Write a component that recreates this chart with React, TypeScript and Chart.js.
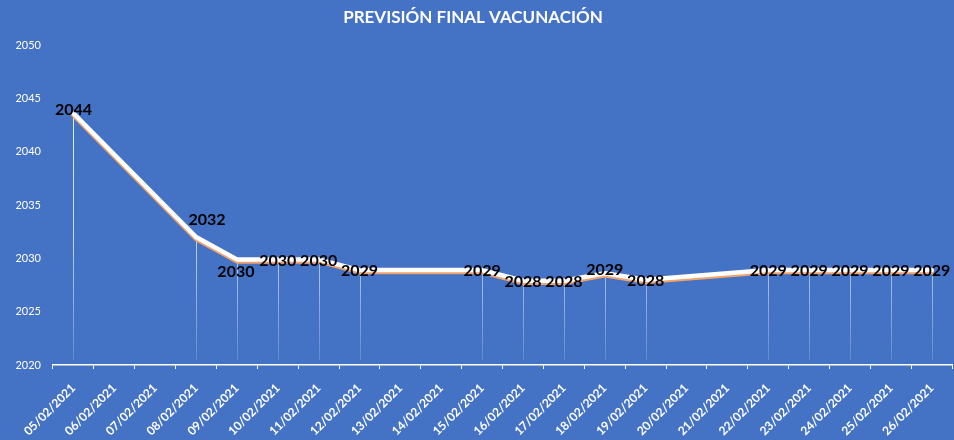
import React, { useEffect, useRef } from "react";
import { Chart, registerables } from "chart.js";

Chart.register(...registerables);

const chartTitle = "PREVISIÓN FINAL VACUNACIÓN";

const categories: string[] = [
  "05/02/2021", "06/02/2021", "07/02/2021", "08/02/2021", "09/02/2021",
  "10/02/2021", "11/02/2021", "12/02/2021", "13/02/2021", "14/02/2021",
  "15/02/2021", "16/02/2021", "17/02/2021", "18/02/2021", "19/02/2021",
  "20/02/2021", "21/02/2021", "22/02/2021", "23/02/2021", "24/02/2021",
  "25/02/2021", "26/02/2021",
];

const forecastYear: (number | null)[] = [
  2043.6, null, null, 2032.0, 2029.9,
  2029.9, 2029.9, 2028.9, null, null,
  2028.9, 2027.9, 2027.9, 2028.6, 2028.0,
  null, null, 2028.9, 2028.9, 2028.9,
  2028.9, 2028.9,
];

const yMin = 2020;
const yMax = 2050;
const yStep = 5;

const BG = "#4472C4";

// label nudges (pixels) for a few data labels that sit off-centre in the original
const labelNudge: Record<number, [number, number]> = {
  0: [0, -3],
  3: [11, -17],
  4: [-1, 12],
  13: [0, -3],
};

const bgPlugin = {
  id: "bgFill",
  beforeDraw(chart: any) {
    const { ctx, width, height } = chart;
    ctx.save();
    ctx.fillStyle = BG;
    ctx.fillRect(0, 0, width, height);
    ctx.restore();
  },
};

const titlePlugin = {
  id: "customTitle",
  afterDraw(chart: any) {
    const { ctx, width } = chart;
    ctx.save();
    ctx.fillStyle = "#FFFFFF";
    ctx.font = "bold 17px Lato";
    ctx.textAlign = "center";
    ctx.textBaseline = "middle";
    ctx.fillText(chartTitle, width / 2 - 4, 18);
    ctx.restore();
  },
};

const dropLinePlugin = {
  id: "dropLines",
  beforeDatasetsDraw(chart: any) {
    const { ctx, chartArea } = chart;
    const meta = chart.getDatasetMeta(0);
    ctx.save();
    const grad = ctx.createLinearGradient(0, chartArea.top, 0, chartArea.bottom);
    grad.addColorStop(0, "rgba(255,255,255,0.95)");
    grad.addColorStop(0.6, "rgba(255,255,255,0.7)");
    grad.addColorStop(1, "rgba(255,255,255,0.15)");
    ctx.strokeStyle = grad;
    ctx.lineWidth = 1;
    meta.data.forEach((pt: any, i: number) => {
      const v = forecastYear[i];
      if (v === null || v === undefined) return;
      const x = Math.round(pt.x) + 0.5;
      ctx.beginPath();
      ctx.moveTo(x, pt.y);
      ctx.lineTo(x, chartArea.bottom - 5);
      ctx.stroke();
    });
    ctx.restore();
  },
};

const shadowPlugin = {
  id: "lineShadow",
  beforeDatasetDraw(chart: any) {
    const ctx = chart.ctx;
    ctx.save();
    ctx.shadowColor = "#F0A36A";
    ctx.shadowOffsetX = 0;
    ctx.shadowOffsetY = 2;
    ctx.shadowBlur = 0;
  },
  afterDatasetDraw(chart: any) {
    chart.ctx.restore();
  },
};

const dataLabelPlugin = {
  id: "dataLabels",
  afterDatasetsDraw(chart: any) {
    const { ctx } = chart;
    const meta = chart.getDatasetMeta(0);
    ctx.save();
    ctx.fillStyle = "#000000";
    ctx.font = "bold 16px Lato";
    ctx.textAlign = "center";
    ctx.textBaseline = "middle";
    meta.data.forEach((pt: any, i: number) => {
      const v = forecastYear[i];
      if (v === null || v === undefined) return;
      const n = labelNudge[i] || [0, 1];
      ctx.fillText(String(Math.round(v)), pt.x + n[0], pt.y + n[1]);
    });
    ctx.restore();
  },
};

export default function App() {
  const canvasRef = useRef<HTMLCanvasElement | null>(null);

  useEffect(() => {
    document.body.style.margin = "0";
    const canvas = canvasRef.current;
    if (!canvas) return;
    const chart = new Chart(canvas, {
      type: "line",
      data: {
        labels: categories,
        datasets: [
          {
            label: "Previsión",
            data: forecastYear,
            borderColor: "#FFFFFF",
            borderWidth: 4.5,
            borderJoinStyle: "round",
            borderCapStyle: "round",
            pointRadius: 0,
            pointHoverRadius: 0,
            spanGaps: true,
            tension: 0,
            fill: false,
          },
        ],
      },
      options: {
        responsive: false,
        animation: false,
        events: [],
        layout: { padding: { top: 45, right: 1, left: 0, bottom: 0 } },
        plugins: {
          legend: { display: false },
          title: { display: false },
          tooltip: { enabled: false },
        },
        scales: {
          x: {
            type: "category",
            offset: true,
            grid: {
              display: true,
              drawOnChartArea: false,
              drawTicks: true,
              tickLength: 4,
              color: "#FFFFFF",
              offset: true,
            },
            border: { display: true, color: "#FFFFFF", width: 1.5 },
            ticks: {
              color: "#FFFFFF",
              font: { family: "Lato", size: 12, weight: "bold" },
              minRotation: 45,
              maxRotation: 45,
              autoSkip: false,
              padding: 12,
            },
            afterFit(scale: any) {
              scale.height = 75;
            },
          },
          y: {
            min: yMin,
            max: yMax,
            grid: { display: false, drawTicks: false },
            border: { display: false },
            ticks: {
              stepSize: yStep,
              color: "#FFFFFF",
              font: { family: "Lato", size: 11 },
              padding: 12,
              callback: (value: any) => String(value),
            },
            afterFit(scale: any) {
              scale.width = 53;
            },
          },
        },
      },
      plugins: [bgPlugin, dropLinePlugin, shadowPlugin, dataLabelPlugin, titlePlugin],
    } as any);
    return () => chart.destroy();
  }, []);

  return (
    <div style={{ position: "absolute", left: 0, top: 0, width: 954, height: 440, background: BG }}>
      <canvas ref={canvasRef} width={954} height={440} style={{ width: 954, height: 440, display: "block" }} />
    </div>
  );
}
